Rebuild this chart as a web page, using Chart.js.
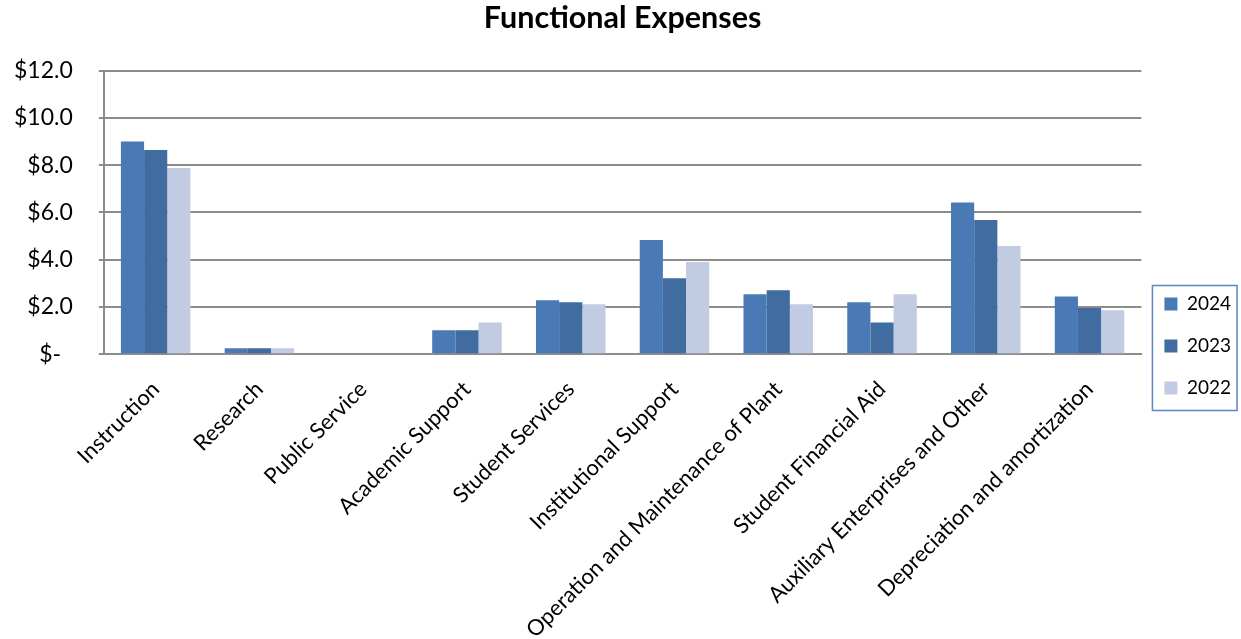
<!DOCTYPE html>
<html>
<head>
<meta charset="utf-8">
<script src="https://cdn.jsdelivr.net/npm/chart.js@4"></script>
<style>
  html, body { margin: 0; padding: 0; background: #fff; }
  #wrap { width: 1241px; height: 639px; }
</style>
</head>
<body>
<div id="wrap"><canvas id="chart" width="1241" height="639"></canvas></div>
<script>
const categories = [
  'Instruction', 'Research', 'Public Service', 'Academic Support', 'Student Services',
  'Institutional Support', 'Operation and Maintenance of Plant', 'Student Financial Aid',
  'Auxiliary Enterprises and Other', 'Depreciation and amortization'
]
const years = ['2024', '2023', '2022']
const values2024 = [9.0, 0.25, 0, 1.02, 2.29, 4.83, 2.54, 2.2, 6.42, 2.44]
const values2023 = [8.64, 0.25, 0, 1.02, 2.2, 3.22, 2.71, 1.34, 5.68, 1.96]
const values2022 = [7.88, 0.25, 0, 1.34, 2.12, 3.9, 2.12, 2.54, 4.58, 1.86]
const yTicks = [0, 2, 4, 6, 8, 10, 12]

const colors = ['#4a7ab5', '#416c9f', '#c1cce2']
const font = 'Lato, "Liberation Sans", sans-serif'

// box round the legend, like the spreadsheet one
const legendBorder = {
  id: 'legendBorder',
  afterDraw (chart) {
    const boxes = chart.legend && chart.legend.legendHitBoxes
    if (!boxes || !boxes.length) return
    const first = boxes[0]
    const last = boxes[boxes.length - 1]
    const left = Math.min(...boxes.map(b => b.left)) - 12
    const right = Math.max(...boxes.map(b => b.left + b.width)) + 6
    const top = first.top - 9
    const bottom = last.top + last.height + 13
    const ctx = chart.ctx
    ctx.save()
    ctx.strokeStyle = '#5b86c0'
    ctx.lineWidth = 1.5
    ctx.strokeRect(left, top, right - left, bottom - top)
    ctx.restore()
  }
}

const ctx = document.getElementById('chart').getContext('2d')
new Chart(ctx, {
  type: 'bar',
  data: {
    labels: categories,
    datasets: [values2024, values2023, values2022].map((v, i) => ({
      label: years[i],
      data: v,
      backgroundColor: colors[i],
      borderWidth: 0,
      barPercentage: 1,
      categoryPercentage: 0.67
    }))
  },
  options: {
    responsive: false,
    animation: false,
    layout: { padding: { top: 0, left: -12, right: 0, bottom: -18 } },
    plugins: {
      title: {
        display: true,
        fullSize: false,
        text: 'Functional Expenses',
        color: '#000',
        font: { family: font, size: 30.5, weight: 'bold' },
        padding: { top: 0, bottom: 34 }
      },
      legend: {
        position: 'right',
        // empty title only pushes the items down a bit
        title: { display: true, text: ' ', font: { size: 10 }, padding: { top: 0, bottom: 23 } },
        labels: {
          color: '#000',
          font: { family: font, size: 19 },
          boxWidth: 13,
          boxHeight: 13,
          padding: 23
        }
      },
      tooltip: { enabled: false }
    },
    scales: {
      x: {
        grid: { display: false },
        border: { display: true, color: '#8c8c8c', width: 2 },
        ticks: {
          color: '#000',
          font: { family: font, size: 22 },
          maxRotation: 45,
          minRotation: 45,
          autoSkip: false,
          padding: 14
        }
      },
      y: {
        min: 0,
        max: 12,
        afterBuildTicks (axis) { axis.ticks = yTicks.map(v => ({ value: v })) },
        grid: { color: '#8c8c8c', lineWidth: 2, tickLength: 5 },
        border: { display: true, color: '#8c8c8c', width: 2 },
        ticks: {
          color: '#000',
          font: { family: font, size: 23 },
          padding: 26,
          callback: v => v === 0 ? '$-  ' : '$' + v.toFixed(1)
        }
      }
    }
  },
  plugins: [legendBorder]
})
</script>
</body>
</html>
